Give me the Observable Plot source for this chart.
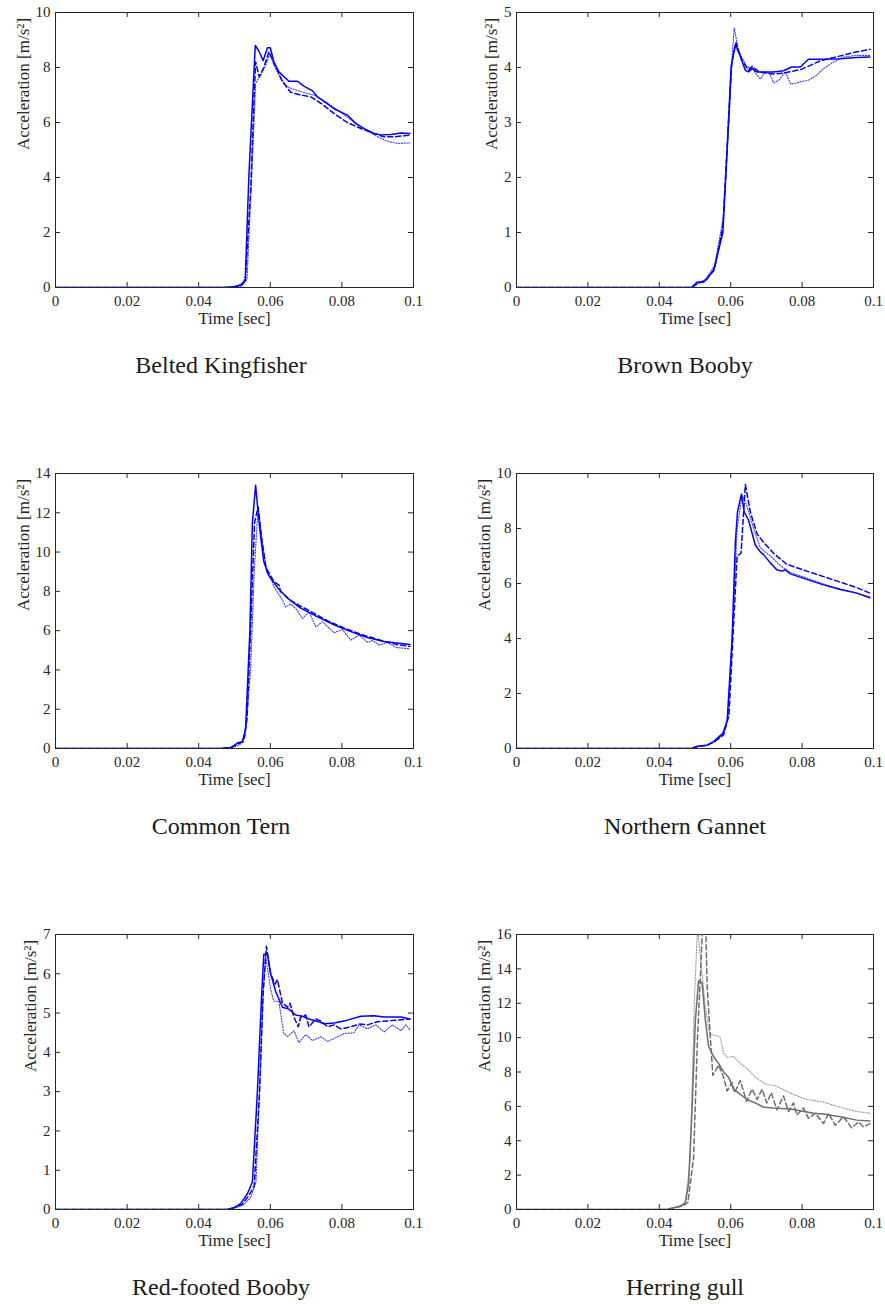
<!DOCTYPE html>
<html>
<head>
<meta charset="utf-8">
<script src="https://cdn.jsdelivr.net/npm/d3@7"></script>
<script src="https://cdn.jsdelivr.net/npm/@observablehq/plot@0.6"></script>
<style>
  body { margin: 0; background: #fff; }
  #fig { position: relative; width: 885px; height: 1304px; font-family: "Liberation Serif", "Times New Roman", serif; }
  .panel { position: absolute; }
  .title { position: absolute; width: 300px; text-align: center; font-size: 24px; line-height: 24px; color: #1a1a1a; font-family: "Liberation Serif", serif; }
</style>
</head>
<body>
<div id="fig"></div>
<script>
// ---------- Tick values ----------
const xTicks = [0, 0.02, 0.04, 0.06, 0.08, 0.1];
const xLabel = "Time [sec]";
const yLabel = "Acceleration [m/s²]";

// ---------- Titles ----------
const titles = ["Belted Kingfisher", "Brown Booby", "Common Tern", "Northern Gannet", "Red-footed Booby", "Herring gull"];

// ---------- Belted Kingfisher ----------
const kingfisherTicks = [0, 2, 4, 6, 8, 10];
const kingfisherSolid = [[0,0],[0.047,0],[0.050,0.03],[0.052,0.1],[0.053,0.3],[0.054,4.0],[0.0553,7.5],[0.0558,8.8],[0.0568,8.6],[0.058,8.25],[0.0592,8.72],[0.060,8.72],[0.061,8.2],[0.0624,7.84],[0.0652,7.5],[0.0676,7.5],[0.0694,7.32],[0.0718,7.15],[0.0732,6.93],[0.0755,6.72],[0.0778,6.5],[0.0815,6.27],[0.0839,5.96],[0.0862,5.78],[0.089,5.6],[0.0909,5.55],[0.0937,5.56],[0.0965,5.62],[0.099,5.6]];
const kingfisherDashed = [[0,0],[0.048,0],[0.051,0.05],[0.053,0.2],[0.0545,3.5],[0.0555,7.0],[0.0559,8.2],[0.0569,7.66],[0.0582,8.0],[0.0596,8.57],[0.0606,8.3],[0.0617,8.0],[0.0634,7.48],[0.0657,7.1],[0.0685,7.0],[0.0713,6.93],[0.0741,6.7],[0.0778,6.33],[0.0815,6.0],[0.0853,5.78],[0.089,5.6],[0.0918,5.48],[0.0946,5.48],[0.099,5.54]];
const kingfisherDotted = [[0,0],[0.048,0],[0.052,0.05],[0.0535,0.3],[0.0548,4],[0.0559,7.42],[0.0573,7.72],[0.0587,8.08],[0.0599,8.5],[0.061,8.08],[0.0629,7.6],[0.0648,7.3],[0.0666,7.2],[0.0699,7.07],[0.0722,7.0],[0.0755,6.75],[0.0788,6.45],[0.0825,6.1],[0.0862,5.78],[0.0899,5.48],[0.0927,5.32],[0.0955,5.24],[0.099,5.26]];

// ---------- Brown Booby ----------
const brownTicks = [0, 1, 2, 3, 4, 5];
const brownSolid = [[0,0],[0.049,0],[0.0506,0.1],[0.0524,0.1],[0.0552,0.3],[0.0578,1.0],[0.059,2.5],[0.0601,4.0],[0.0613,4.42],[0.0627,4.2],[0.0641,3.95],[0.065,3.92],[0.066,3.98],[0.0673,3.92],[0.072,3.92],[0.0748,3.94],[0.0771,4.01],[0.0795,4.01],[0.0818,4.15],[0.086,4.15],[0.0907,4.16],[0.0953,4.18],[0.099,4.19]];
const brownDashed = [[0,0],[0.049,0],[0.051,0.08],[0.053,0.12],[0.0555,0.35],[0.0578,1.1],[0.0592,2.8],[0.0603,4.1],[0.0615,4.45],[0.063,4.15],[0.065,3.95],[0.066,4.02],[0.068,3.92],[0.072,3.88],[0.075,3.9],[0.08,3.97],[0.085,4.12],[0.09,4.2],[0.095,4.28],[0.099,4.33]];
const brownDotted = [[0,0],[0.049,0],[0.051,0.08],[0.053,0.15],[0.0555,0.4],[0.058,1.3],[0.0595,3.0],[0.0605,4.3],[0.061,4.72],[0.0622,4.3],[0.0646,4.0],[0.066,4.01],[0.067,3.89],[0.0683,3.79],[0.0697,3.92],[0.071,3.88],[0.072,3.72],[0.0735,3.77],[0.0753,3.92],[0.0768,3.7],[0.0782,3.71],[0.0795,3.74],[0.0818,3.77],[0.0841,3.86],[0.086,3.98],[0.0888,4.1],[0.0916,4.19],[0.0953,4.22],[0.099,4.22]];

// ---------- Common Tern ----------
const ternTicks = [0, 2, 4, 6, 8, 10, 12, 14];
const ternSolid = [[0,0],[0.046,0],[0.049,0.05],[0.051,0.3],[0.0522,0.35],[0.0531,1.0],[0.0543,6.0],[0.055,11.5],[0.0559,13.4],[0.0566,12.0],[0.0573,10.8],[0.0582,9.5],[0.0596,8.8],[0.062,8.2],[0.0648,7.65],[0.0685,7.15],[0.0732,6.7],[0.0778,6.3],[0.0825,5.95],[0.0871,5.65],[0.0918,5.45],[0.099,5.3]];
const ternDashed = [[0,0],[0.046,0],[0.049,0.05],[0.0512,0.25],[0.0525,0.35],[0.0535,1.5],[0.0547,7],[0.0556,11.5],[0.0566,12.3],[0.0575,10.8],[0.0588,9.2],[0.061,8.5],[0.0625,8.3],[0.0628,8.0],[0.066,7.5],[0.071,7.0],[0.076,6.5],[0.081,6.1],[0.0855,5.8],[0.091,5.5],[0.095,5.3],[0.099,5.2]];
const ternDotted = [[0,0],[0.046,0],[0.0495,0.05],[0.0515,0.2],[0.053,0.6],[0.0545,4],[0.0555,9],[0.0566,12.3],[0.0578,10.5],[0.059,9.0],[0.0605,8.5],[0.061,8.23],[0.0634,7.55],[0.0643,7.2],[0.0657,7.35],[0.0671,7.13],[0.069,6.62],[0.0708,6.96],[0.0727,6.2],[0.0746,6.45],[0.0778,5.89],[0.0801,6.06],[0.0825,5.52],[0.0848,5.77],[0.0872,5.4],[0.0885,5.5],[0.0904,5.26],[0.0927,5.4],[0.0951,5.14],[0.099,5.08]];

// ---------- Northern Gannet ----------
const gannetTicks = [0, 2, 4, 6, 8, 10];
const gannetSolid = [[0,0],[0.049,0],[0.0506,0.08],[0.0534,0.12],[0.0552,0.25],[0.0578,0.55],[0.059,1.0],[0.0604,4.0],[0.0613,7.5],[0.0619,8.6],[0.063,9.25],[0.0638,8.6],[0.065,8.3],[0.0669,7.4],[0.0683,7.15],[0.0692,7.05],[0.0711,6.75],[0.0729,6.5],[0.0744,6.45],[0.0753,6.5],[0.0767,6.35],[0.0813,6.15],[0.086,5.95],[0.0907,5.78],[0.0953,5.65],[0.099,5.48]];
const gannetDashed = [[0,0],[0.049,0],[0.051,0.08],[0.0534,0.12],[0.0555,0.25],[0.058,0.5],[0.0595,1.2],[0.0608,4.5],[0.0618,7.0],[0.0629,7.1],[0.0641,9.6],[0.0655,8.6],[0.0674,7.8],[0.0692,7.5],[0.072,7.1],[0.0757,6.7],[0.0813,6.45],[0.086,6.25],[0.0907,6.05],[0.0953,5.85],[0.099,5.65]];
const gannetDotted = [[0,0],[0.049,0],[0.051,0.08],[0.0534,0.12],[0.0555,0.25],[0.058,0.5],[0.0592,1.1],[0.0606,4.5],[0.0618,8.0],[0.0632,9.2],[0.0646,8.8],[0.0664,8.0],[0.0683,7.3],[0.0711,7.0],[0.0739,6.65],[0.0767,6.4],[0.0813,6.2],[0.086,5.98],[0.0907,5.8],[0.0953,5.66],[0.099,5.5]];

// ---------- Red-footed Booby ----------
const redTicks = [0, 1, 2, 3, 4, 5, 6, 7];
const redSolid = [[0,0],[0.048,0],[0.0499,0.05],[0.0517,0.15],[0.0536,0.4],[0.055,0.7],[0.0564,3.0],[0.0576,5.5],[0.0582,6.5],[0.0592,6.5],[0.0601,6.0],[0.0615,5.55],[0.0634,5.15],[0.0652,5.1],[0.0671,4.95],[0.069,4.92],[0.0708,4.85],[0.0736,4.78],[0.075,4.73],[0.0778,4.75],[0.0815,4.82],[0.0853,4.92],[0.089,4.93],[0.0918,4.9],[0.0965,4.9],[0.099,4.85]];
const redDashed = [[0,0],[0.048,0],[0.05,0.05],[0.052,0.12],[0.054,0.35],[0.0555,0.6],[0.057,3.0],[0.058,5.5],[0.0589,6.7],[0.0601,6.0],[0.0613,5.74],[0.062,5.85],[0.0634,5.25],[0.0648,5.15],[0.0655,5.25],[0.0666,4.9],[0.0678,4.65],[0.0685,4.9],[0.0699,4.95],[0.0708,4.65],[0.0727,4.85],[0.0741,4.8],[0.076,4.65],[0.0778,4.7],[0.0797,4.6],[0.0825,4.65],[0.0848,4.72],[0.0871,4.7],[0.0899,4.78],[0.0927,4.8],[0.099,4.85]];
const redDotted = [[0,0],[0.048,0],[0.0505,0.05],[0.0525,0.12],[0.0545,0.3],[0.056,0.7],[0.0572,3.5],[0.058,5.5],[0.0587,6.45],[0.0601,5.6],[0.061,5.3],[0.0624,5.3],[0.0637,4.5],[0.0648,4.4],[0.0666,4.55],[0.068,4.25],[0.0699,4.45],[0.0718,4.3],[0.0741,4.4],[0.076,4.28],[0.0778,4.35],[0.0806,4.48],[0.0834,4.5],[0.0848,4.7],[0.0871,4.6],[0.0895,4.7],[0.0918,4.52],[0.0941,4.7],[0.0965,4.55],[0.0979,4.7],[0.099,4.58]];

// ---------- Herring gull ----------
const gullTicks = [0, 2, 4, 6, 8, 10, 12, 14, 16];
const gullSolid = [[0,0],[0.042,0],[0.044,0.1],[0.0459,0.2],[0.0473,0.4],[0.0482,1.5],[0.0492,6.0],[0.0501,11.0],[0.051,13.3],[0.052,13.2],[0.0529,11.0],[0.0538,9.5],[0.0552,8.9],[0.0566,8.5],[0.058,8.0],[0.0594,7.7],[0.0608,7.0],[0.0627,6.7],[0.0646,6.4],[0.0669,6.2],[0.0692,5.95],[0.072,5.9],[0.0767,5.85],[0.0795,5.75],[0.0832,5.6],[0.086,5.55],[0.0907,5.4],[0.0953,5.2],[0.099,5.15]];
const gullDashed = [[0,0],[0.042,0],[0.0445,0.1],[0.0465,0.2],[0.048,0.4],[0.0496,3],[0.0507,10],[0.0515,13.5],[0.0521,16.5],[0.053,16.5],[0.0534,13],[0.0543,10],[0.055,7.8],[0.0566,8.4],[0.058,7.7],[0.059,6.9],[0.0604,7.4],[0.0611,6.8],[0.0627,7.5],[0.0644,6.3],[0.066,7.0],[0.0674,6.4],[0.0688,7.0],[0.0701,6.2],[0.0714,6.8],[0.0729,5.8],[0.0748,6.6],[0.0762,5.7],[0.0776,6.2],[0.0785,5.5],[0.0804,5.9],[0.0818,5.3],[0.0837,5.6],[0.086,5.0],[0.0874,5.6],[0.0893,4.9],[0.0916,5.4],[0.0939,4.75],[0.0958,5.1],[0.0972,4.8],[0.099,5.0]];
const gullDotted = [[0,0],[0.042,0],[0.044,0.1],[0.0459,0.2],[0.0473,0.4],[0.0487,3],[0.0498,12],[0.0507,16.4],[0.0517,14.3],[0.0528,12],[0.0538,10.5],[0.0543,10.2],[0.0562,10.1],[0.0571,10.0],[0.058,9.1],[0.059,8.85],[0.0608,8.9],[0.0627,8.5],[0.0646,8.2],[0.0669,7.7],[0.0697,7.3],[0.0725,7.2],[0.0776,6.7],[0.0813,6.4],[0.086,6.25],[0.0907,5.95],[0.0953,5.7],[0.099,5.6]];

// ---------- Panel assembly ----------
const blue = {solid: "#0000ff", dashed: "#0000ff", dotted: "#3a3aff"};
const gray = {solid: "#6e6e6e", dashed: "#6e6e6e", dotted: "#9a9a9a"};

const panels = [
  {ticks: kingfisherTicks, solid: kingfisherSolid, dashed: kingfisherDashed, dotted: kingfisherDotted, colors: blue, labelDx: -32},
  {ticks: brownTicks, solid: brownSolid, dashed: brownDashed, dotted: brownDotted, colors: blue, labelDx: -25},
  {ticks: ternTicks, solid: ternSolid, dashed: ternDashed, dotted: ternDotted, colors: blue, labelDx: -32},
  {ticks: gannetTicks, solid: gannetSolid, dashed: gannetDashed, dotted: gannetDotted, colors: blue, labelDx: -32},
  {ticks: redTicks, solid: redSolid, dashed: redDashed, dotted: redDotted, colors: blue, labelDx: -25},
  {ticks: gullTicks, solid: gullSolid, dashed: gullDashed, dotted: gullDotted, colors: gray, labelDx: -32}
];

const axisColor = "#262626";
const fig = document.getElementById("fig");

panels.forEach((p, i) => {
  const col = i % 2, row = Math.floor(i / 2);
  const W = col === 0 ? 442 : 443;
  const mL = col === 0 ? 55 : 74;
  const mR = col === 0 ? 29 : 12;
  const H = 345, mT = 12, mB = 58;
  const ph = H - mT - mB;
  const pw = W - mL - mR;
  const ymax = p.ticks[p.ticks.length - 1];
  const toRows = arr => arr.map(([t, a]) => ({t, a}));

  const chart = Plot.plot({
    width: W, height: H,
    marginLeft: mL, marginRight: mR, marginTop: mT, marginBottom: mB,
    x: {domain: [0, 0.1]},
    y: {domain: [0, ymax]},
    style: {fontFamily: "'Liberation Serif', 'Times New Roman', serif", fontSize: "15px", color: axisColor, background: "white", overflow: "visible"},
    marks: [
      Plot.axisX(xTicks, {tickSize: 0, tickPadding: 8, tickFormat: d => String(d), label: null}),
      Plot.axisY(p.ticks, {tickSize: 0, tickPadding: 5, tickFormat: d => String(d), label: null}),
      Plot.tickX(xTicks, {x: d => d, insetTop: ph - 5, stroke: axisColor}),
      Plot.tickX(xTicks, {x: d => d, insetBottom: ph - 5, stroke: axisColor}),
      Plot.tickY(p.ticks, {y: d => d, insetRight: pw - 5, stroke: axisColor}),
      Plot.tickY(p.ticks, {y: d => d, insetLeft: pw - 5, stroke: axisColor}),
      Plot.frame({stroke: axisColor, strokeWidth: 1}),
      Plot.text([xLabel], {text: d => d, frameAnchor: "bottom", dy: 36, fontSize: 17, fill: axisColor}),
      Plot.text([yLabel], {text: d => d, frameAnchor: "left", dx: p.labelDx, rotate: -90, fontSize: 17, fill: axisColor}),
      Plot.line(toRows(p.dotted), {x: "t", y: "a", stroke: p.colors.dotted, strokeWidth: 1.1, strokeDasharray: "1.2,1.6", clip: true}),
      Plot.line(toRows(p.dashed), {x: "t", y: "a", stroke: p.colors.dashed, strokeWidth: 1.5, strokeDasharray: "5,3", clip: true}),
      Plot.line(toRows(p.solid), {x: "t", y: "a", stroke: p.colors.solid, strokeWidth: 1.5, clip: true})
    ]
  });
  const wrap = document.createElement("div");
  wrap.className = "panel";
  wrap.style.left = (col * 442) + "px";
  wrap.style.top = (row * 461) + "px";
  wrap.appendChild(chart);
  fig.appendChild(wrap);

  const t = document.createElement("div");
  t.className = "title";
  t.textContent = titles[i];
  t.style.left = ((col === 0 ? 221 : 685) - 150) + "px";
  t.style.top = (353 + row * 461) + "px";
  fig.appendChild(t);
});
</script>
</body>
</html>
